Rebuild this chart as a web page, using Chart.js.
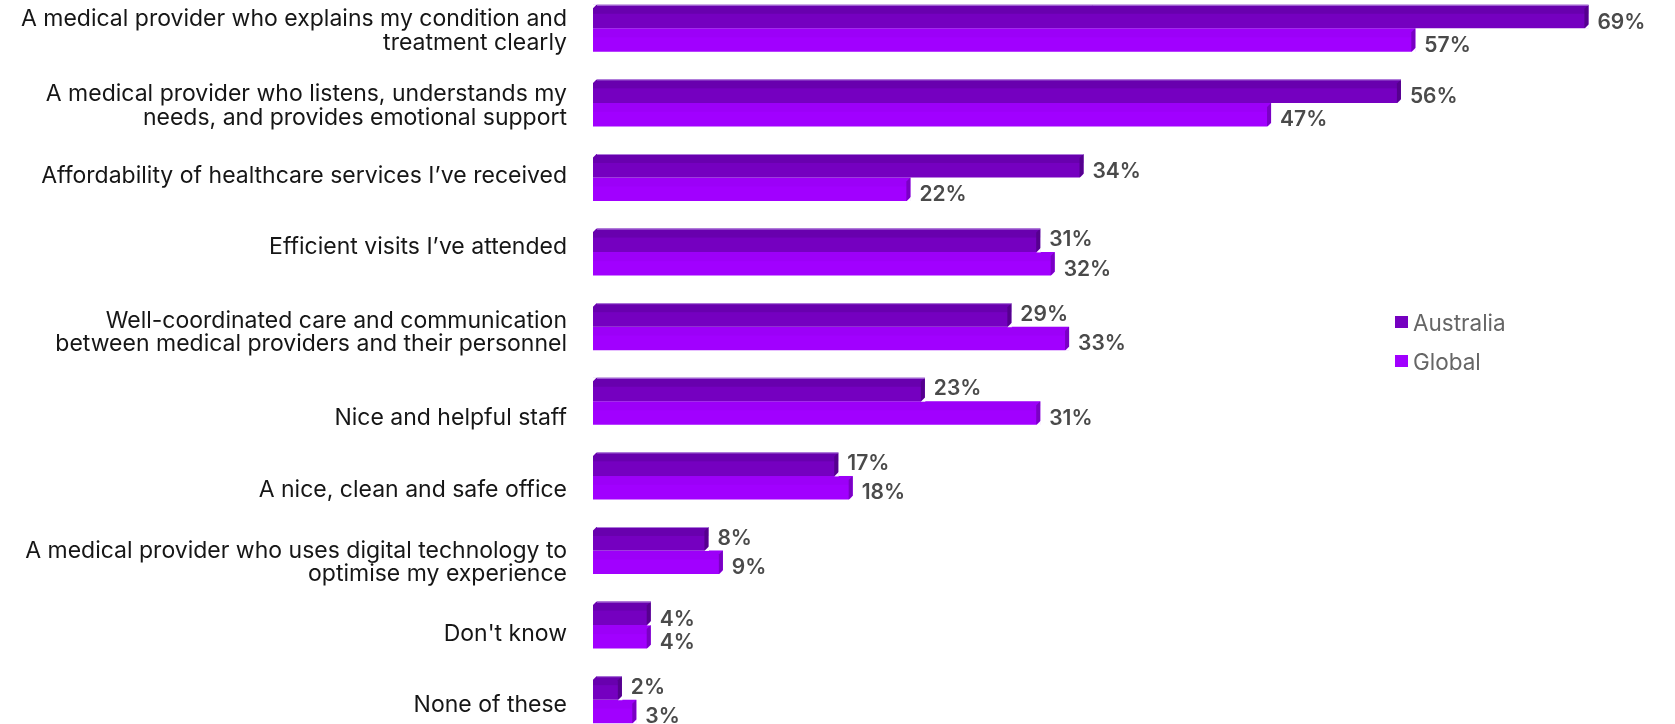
<!DOCTYPE html>
<html>
<head>
<meta charset="utf-8">
<script src="https://cdn.jsdelivr.net/npm/chart.js@4.4.1/dist/chart.umd.min.js"></script>
<style>
    html, body { margin: 0; padding: 0; background: #fff; overflow: hidden; }
    body { width: 1675px; height: 724px; position: relative; }
    #chartWrap { position: absolute; left: 0; top: -9px; width: 1675px; height: 746px; }
    #legend { position: absolute; left: 1395px; top: 308px; font-family: Inter, sans-serif; font-size: 22.5px; color: #666; }
    #legend div { display: flex; align-items: center; height: 28px; margin-bottom: 11px; }
    #legend span.box { width: 13px; height: 12px; margin-right: 5px; display: inline-block; }
</style>
</head>
<body>
<div id="chartWrap"><canvas id="driversChart"></canvas></div>
<div id="legend"></div>
<script>
const categories = [
    ["A medical provider who explains my condition and", "treatment clearly"],
    ["A medical provider who listens, understands my", "needs, and provides emotional support"],
    "Affordability of healthcare services I\u2019ve received",
    "Efficient visits I\u2019ve attended",
    ["Well-coordinated care and communication", "between medical providers and their personnel"],
    "Nice and helpful staff",
    "A nice, clean and safe office",
    ["A medical provider who uses digital technology to", "optimise my experience"],
    "Don't know",
    "None of these"
];
const australiaValues = [69, 56, 34, 31, 29, 23, 17, 8, 4, 2];
const globalValues = [57, 47, 22, 32, 33, 31, 18, 9, 4, 3];

const seriesNames = ["Australia", "Global"];
const seriesColors = ["#7500C0", "#A100FF"];
// darker shades for the bar ends and the top band of each bar
const sideColors = ["#55008e", "#7a00c4"];
const bandColors = ["rgba(80,0,140,0.35)", "rgba(120,0,200,0.12)"];

// the category text boxes don't all sit on the group centre
const labelNudge = [3, 3, -1, -5, 6, 17, 14, 12, 9, 5];

// extruded look: top band, right side face and chamfered corners
const bevelBars = {
    id: 'bevelBars',
    afterDatasetsDraw(chart) {
        const ctx = chart.ctx;
        const d = 4;
        chart.data.datasets.forEach((ds, di) => {
            const meta = chart.getDatasetMeta(di);
            meta.data.forEach(bar => {
                const { x, y, base, height } = bar.getProps(['x', 'y', 'base', 'height'], true);
                const top = y - height / 2;
                const bottom = y + height / 2;
                ctx.save();

                ctx.fillStyle = bandColors[di];
                ctx.fillRect(base, top, x - base, height * 0.38);

                ctx.fillStyle = sideColors[di];
                ctx.beginPath();
                ctx.moveTo(x - d, top + d);
                ctx.lineTo(x, top);
                ctx.lineTo(x, bottom - d);
                ctx.lineTo(x - d, bottom);
                ctx.closePath();
                ctx.fill();

                ctx.fillStyle = '#fff';
                ctx.beginPath();
                ctx.moveTo(x + 0.5, bottom + 0.5);
                ctx.lineTo(x + 0.5, bottom - d);
                ctx.lineTo(x - d, bottom + 0.5);
                ctx.closePath();
                ctx.fill();

                if (di === 0) {
                    ctx.beginPath();
                    ctx.moveTo(base - 0.5, top - 0.5);
                    ctx.lineTo(base + d, top - 0.5);
                    ctx.lineTo(base - 0.5, top + d);
                    ctx.closePath();
                    ctx.fill();
                    ctx.strokeStyle = 'rgba(190,150,230,0.8)';
                    ctx.lineWidth = 1;
                    ctx.beginPath();
                    ctx.moveTo(base + d, top + 0.5);
                    ctx.lineTo(x, top + 0.5);
                    ctx.stroke();
                }
                ctx.restore();
            });
        });
    }
};

// percentage next to each bar; the upper one moves up when the
// lower bar is slightly longer so the two labels don't touch
const valueLabels = {
    id: 'valueLabels',
    afterDatasetsDraw(chart) {
        const ctx = chart.ctx;
        ctx.save();
        ctx.font = '600 21px Inter, sans-serif';
        ctx.fillStyle = '#4a4a4a';
        ctx.textAlign = 'left';
        ctx.textBaseline = 'middle';
        chart.data.datasets.forEach((ds, di) => {
            const meta = chart.getDatasetMeta(di);
            meta.data.forEach((bar, i) => {
                const { x, y } = bar.getProps(['x', 'y'], true);
                let dy = 5.5;
                if (di === 0) {
                    const gap = globalValues[i] - australiaValues[i];
                    dy = (gap > 0 && gap <= 8) ? -0.5 : 6;
                }
                ctx.fillText(ds.data[i] + '%', x + 9, y + dy);
            });
        });
        ctx.restore();
    }
};

// category text, right aligned against the bars
const categoryLabels = {
    id: 'categoryLabels',
    afterDraw(chart) {
        const ctx = chart.ctx;
        const yScale = chart.scales.y;
        const lineHeight = 23.5;
        ctx.save();
        ctx.font = '23px Inter, sans-serif';
        ctx.fillStyle = '#161616';
        ctx.textAlign = 'right';
        ctx.textBaseline = 'middle';
        chart.data.labels.forEach((label, i) => {
            const lines = Array.isArray(label) ? label : [label];
            const yc = yScale.getPixelForValue(i) + labelNudge[i];
            const y0 = yc - (lines.length - 1) * lineHeight / 2;
            lines.forEach((line, j) => {
                ctx.fillText(line, yScale.right - 26, y0 + j * lineHeight);
            });
        });
        ctx.restore();
    }
};

function buildLegend() {
    const el = document.getElementById('legend');
    seriesNames.forEach((name, i) => {
        const row = document.createElement('div');
        const box = document.createElement('span');
        box.className = 'box';
        box.style.background = seriesColors[i];
        row.appendChild(box);
        row.appendChild(document.createTextNode(name));
        el.appendChild(row);
    });
}

function initDriversChart() {
    const ctx = document.getElementById('driversChart');
    new Chart(ctx, {
        type: 'bar',
        data: {
            labels: categories,
            datasets: [
                { label: seriesNames[0], data: australiaValues, backgroundColor: seriesColors[0] },
                { label: seriesNames[1], data: globalValues, backgroundColor: seriesColors[1] }
            ]
        },
        options: {
            indexAxis: 'y',
            responsive: true,
            maintainAspectRatio: false,
            animation: false,
            layout: { padding: 0 },
            datasets: { bar: { categoryPercentage: 0.63, barPercentage: 1.0 } },
            scales: {
                x: { display: false, min: 0, max: 75 },
                y: {
                    grid: { display: false, drawTicks: false },
                    border: { display: false },
                    ticks: { display: false },
                    afterFit(scale) {
                        scale.width = 593;
                        scale.paddingTop = 0;
                        scale.paddingBottom = 0;
                    }
                }
            },
            plugins: {
                legend: { display: false },
                tooltip: { enabled: false }
            }
        },
        plugins: [bevelBars, valueLabels, categoryLabels]
    });
}

buildLegend();
initDriversChart();
</script>
</body>
</html>
